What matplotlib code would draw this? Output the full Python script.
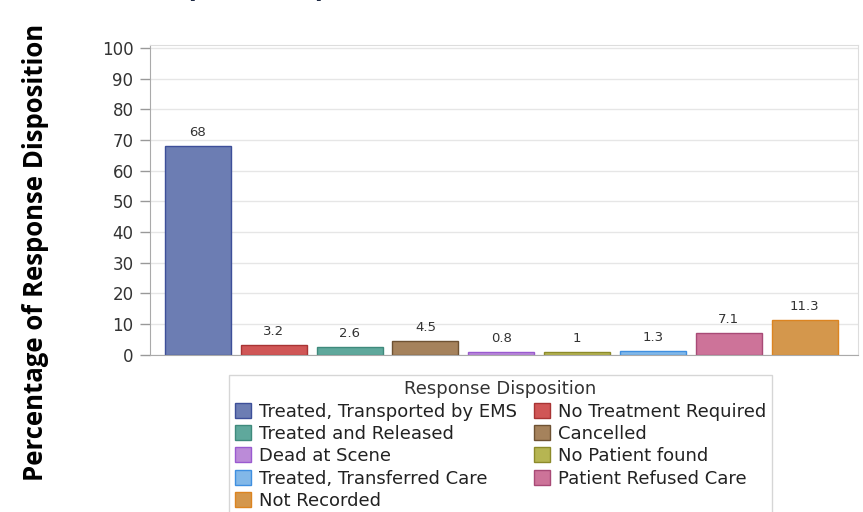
import numpy as np
import matplotlib.pyplot as plt
from matplotlib.patches import Patch

# data
categories = ["Treated, Transported by EMS", "No Treatment Required",
              "Treated and Released", "Cancelled", "Dead at Scene",
              "No Patient found", "Treated, Transferred Care",
              "Patient Refused Care", "Not Recorded"]
values = [68, 3.2, 2.6, 4.5, 0.8, 1, 1.3, 7.1, 11.3]
value_labels = ["68", "3.2", "2.6", "4.5", "0.8", "1", "1.3", "7.1", "11.3"]
face_colors = ["#6c7db3", "#d05656", "#5fa89c", "#a5825c", "#bb8bd8",
               "#b6b552", "#82b8e8", "#cd7399", "#d4974c"]
edge_colors = ["#3d4f99", "#a83434", "#3f8a7c", "#6e5233", "#9a5ad0",
               "#8c8a2a", "#3f8fe0", "#a84a76", "#dc8420"]
y_ticks = np.arange(0, 101, 10)

plt.rcParams['font.family'] = ['DejaVu Sans']

fig = plt.figure(figsize=(8.63, 5.12), dpi=100)
ax = fig.add_axes([0.174, 0.307, 0.82, 0.605])

x = np.arange(len(values))
ax.set_axisbelow(True)
ax.yaxis.grid(True, color="#e6e6e6", lw=1)
ax.bar(x, values, width=0.87, color=face_colors, edgecolor=edge_colors, lw=1)
for xi, v, lab in zip(x, values, value_labels):
    ax.annotate(lab, (xi, v), xytext=(0, 5), textcoords="offset points",
                ha="center", va="bottom", fontsize=9.5, color="#333333")

ax.set_xlim(-0.63, 8.7)
ax.set_ylim(0, 101)
ax.set_yticks(y_ticks)
ax.set_xticks([])
ax.tick_params(axis="y", labelsize=12, labelcolor="#333333", color="#999999",
               length=7, width=1, pad=5)
for side in ["left", "bottom"]:
    ax.spines[side].set_color("#aaaaaa")
for side in ["top", "right"]:
    ax.spines[side].set_color("#dddddd")

fig.text(0.041, 0.507, "Percentage of Response Disposition", rotation=90,
         ha="center", va="center", fontsize=18.5, fontweight="bold",
         family=["Open Sans", "DejaVu Sans"])

# title is cut off at the top of the image, only descenders peek in
fig.text(0.166, 1.0 + 5 / 512, "Response Disposition", ha="left", va="baseline",
         fontsize=19, fontweight="bold", color="#1f2a44",
         family=["Open Sans", "DejaVu Sans"])

# legend fills row by row in the reference
order = [0, 2, 4, 6, 8, 1, 3, 5, 7]
handles = [Patch(facecolor=face_colors[i], edgecolor=edge_colors[i]) for i in order]
labels = [categories[i] for i in order]
leg = fig.legend(handles, labels, title="Response Disposition", ncol=2,
                 loc="upper center", bbox_to_anchor=(0.58, 0.268),
                 borderaxespad=0.0,
                 fontsize=13, title_fontsize=13, frameon=True, fancybox=False,
                 handlelength=0.9, handleheight=0.9, handletextpad=0.45,
                 columnspacing=0.9, labelspacing=0.24, borderpad=0.3)
leg.get_frame().set_edgecolor("#cccccc")
leg.get_frame().set_linewidth(1)
leg.get_title().set_color("#333333")
for t in leg.get_texts():
    t.set_color("#222222")

fig.savefig("out.png", dpi=100)
